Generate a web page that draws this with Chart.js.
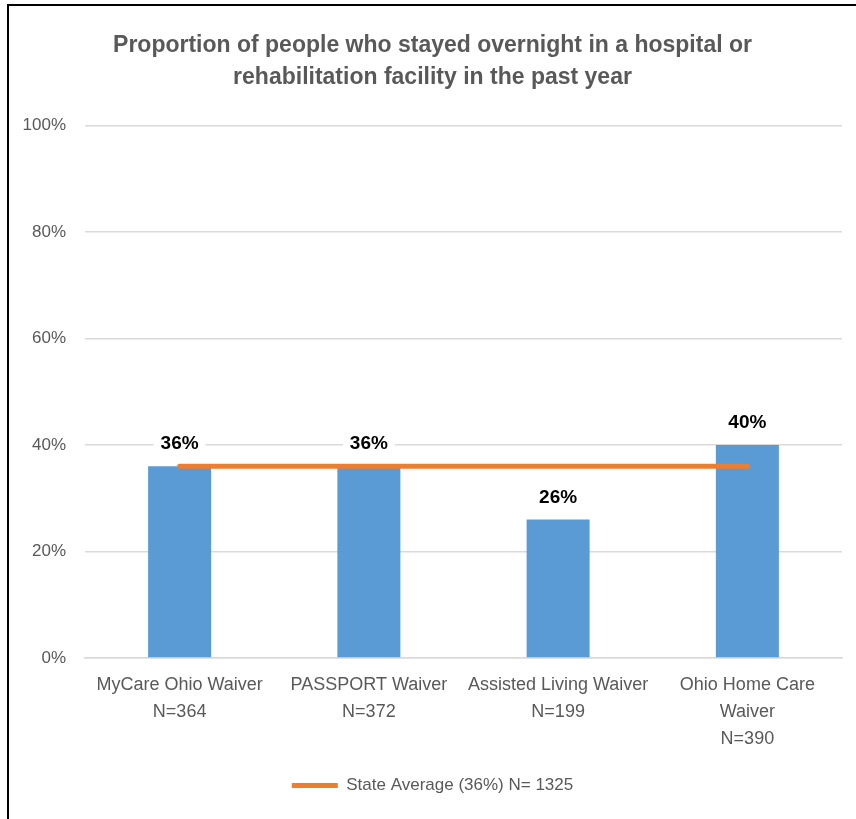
<!DOCTYPE html>
<html>
<head>
<meta charset="utf-8">
<script src="https://cdn.jsdelivr.net/npm/chart.js@4.4.1/dist/chart.umd.min.js"></script>
<style>
  html, body { margin: 0; padding: 0; background: #fff; }
  #frame {
    position: absolute; left: 7px; top: 4px;
    width: 847px; height: 813px;
    border-left: 2px solid #000; border-top: 2px solid #000;
  }
  #box { position: relative; width: 847px; height: 813px; }
</style>
</head>
<body>
<div id="frame"><div id="box"><canvas id="chart"></canvas></div></div>
<script>
// chart data
const categories = [
  ['MyCare Ohio Waiver', 'N=364'],
  ['PASSPORT Waiver', 'N=372'],
  ['Assisted Living Waiver', 'N=199'],
  ['Ohio Home Care', 'Waiver', 'N=390']
];
const waiverValues = [36, 36, 26, 40];
const stateAverage = [36, 36, 36, 36];
const stateLabel = 'State Average (36%) N= 1325';
const titleLines = [
  'Proportion of people who stayed overnight in a hospital or',
  'rehabilitation facility in the past year'
];

const FONT = "'Liberation Sans', Arial, sans-serif";
const GRAY = '#595959';

// labels above the bars, on a white patch so the gridline breaks around them
const barLabels = {
  id: 'barLabels',
  afterDatasetsDraw(chart) {
    const ctx = chart.ctx;
    const meta = chart.getDatasetMeta(1);
    ctx.save();
    ctx.font = 'bold 19px ' + FONT;
    ctx.textAlign = 'center';
    ctx.textBaseline = 'alphabetic';
    meta.data.forEach((bar, i) => {
      const txt = waiverValues[i] + '%';
      const w = ctx.measureText(txt).width;
      const y = bar.y - 17;
      ctx.fillStyle = '#fff';
      ctx.fillRect(bar.x - w / 2 - 7, y - 19, w + 14, 24);
      ctx.fillStyle = '#000';
      ctx.fillText(txt, bar.x, y);
    });
    ctx.restore();
  }
};

new Chart(document.getElementById('chart'), {
  data: {
    labels: categories,
    datasets: [
      {
        type: 'line',
        label: stateLabel,
        data: stateAverage,
        borderColor: '#ED7D31',
        backgroundColor: '#ED7D31',
        borderWidth: 5,
        borderCapStyle: 'round',
        pointRadius: 0,
        pointStyle: 'line',
        order: 0
      },
      {
        type: 'bar',
        label: 'Waiver',
        data: waiverValues,
        backgroundColor: '#5B9BD5',
        barPercentage: 0.333,
        categoryPercentage: 1,
        order: 1
      }
    ]
  },
  options: {
    responsive: true,
    maintainAspectRatio: false,
    animation: false,
    layout: { padding: { left: 14, right: 14, top: 0, bottom: 15 } },
    plugins: {
      title: {
        display: true,
        text: titleLines,
        color: GRAY,
        font: { family: FONT, size: 23, weight: 'bold', lineHeight: 1.42 },
        padding: { top: 23, bottom: 31 }
      },
      legend: {
        position: 'bottom',
        labels: {
          filter: (item) => item.datasetIndex === 0,
          usePointStyle: true,
          pointStyleWidth: 46,
          color: GRAY,
          padding: 10,
          font: { family: FONT, size: 17 }
        }
      },
      tooltip: { enabled: false }
    },
    scales: {
      y: {
        min: 0,
        max: 100,
        afterFit: (scale) => { scale.width = 62; },
        ticks: {
          stepSize: 20,
          padding: 19,
          color: GRAY,
          font: { family: FONT, size: 17 },
          callback: (v) => v + '%'
        },
        grid: { color: '#D9D9D9', lineWidth: 1.5, drawTicks: false },
        border: { display: false }
      },
      x: {
        ticks: {
          padding: 14,
          color: GRAY,
          maxRotation: 0,
          autoSkip: false,
          font: { family: FONT, size: 18, lineHeight: 1.5 }
        },
        grid: { display: false, drawTicks: false },
        border: { display: true, color: '#D9D9D9', width: 1.5 }
      }
    }
  },
  plugins: [barLabels]
});
</script>
</body>
</html>
